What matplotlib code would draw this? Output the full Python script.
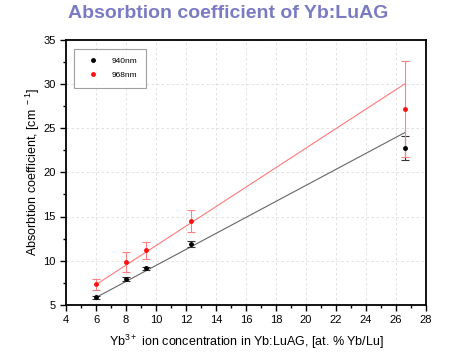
import numpy as np
import matplotlib.pyplot as plt

plt.rcParams["font.family"] = ["Liberation Sans", "DejaVu Sans"]
plt.rcParams["mathtext.fontset"] = "custom"
plt.rcParams["mathtext.rm"] = "Liberation Sans"

# data
conc = [6.0, 8.0, 9.33, 12.3, 26.6]
abs_940 = [5.87, 7.95, 9.15, 11.9, 22.7]
err_940 = [0.15, 0.2, 0.2, 0.35, 1.35]
abs_968 = [7.34, 9.86, 11.2, 14.5, 27.15]
err_968 = [0.6, 1.1, 0.95, 1.2, 5.4]
# linear fits (slope, intercept)
fit_940 = [0.905, 0.42]
fit_968 = [1.102, 0.69]

fig = plt.figure(figsize=(4.5, 3.58), dpi=100)
ax = fig.add_axes([66 / 450, 1 - 305 / 358, 360 / 450, 265.5 / 358])

xf = np.array([conc[0], conc[-1]])
ax.plot(xf, fit_940[0] * xf + fit_940[1], color="#666666", lw=0.8)
ax.plot(xf, fit_968[0] * xf + fit_968[1], color="#ff7a7a", lw=0.8)

# error bars
ax.errorbar(conc, abs_940, yerr=err_940, fmt="none", ecolor="#333333",
            elinewidth=0.8, capsize=3, capthick=0.8)
ax.errorbar(conc, abs_968, yerr=err_968, fmt="none", ecolor="#ff8080",
            elinewidth=0.8, capsize=3, capthick=0.8)
# points
ax.plot(conc, abs_940, "o", color="black", ms=2.5, ls="none", label="940nm")
ax.plot(conc, abs_968, "o", color="#ff1010", ms=2.5, ls="none", label="968nm")

ax.set_xlim(4, 28)
ax.set_ylim(5, 35)
ax.set_xticks(np.arange(4, 29, 2))
ax.set_xticks(np.arange(4, 29, 1), minor=True)
ax.set_yticks(np.arange(5, 36, 5))
ax.set_yticks(np.arange(5, 36, 2.5), minor=True)
ax.tick_params(which="major", direction="out", length=4.5, width=1, labelsize=8, pad=3,
               right=False, top=False)
ax.tick_params(which="minor", direction="out", length=2.5, width=1)
ax.grid(True, which="major", color="#dddddd", ls=(0, (3, 3)), lw=0.6)
for s in ax.spines.values():
    s.set_linewidth(1.3)

ax.set_xlabel(r"Yb$^{3+}$ ion concentration in Yb:LuAG, [at. % Yb/Lu]", fontsize=9, labelpad=5)
ax.set_ylabel(r"Absorbtion coefficient, [cm$^{\ -1}$]", fontsize=9, labelpad=1)

leg = ax.legend(loc="upper left", fontsize=6, frameon=True, fancybox=False,
                edgecolor="#888888", borderpad=1.0, labelspacing=0.75,
                handlelength=2.5, handletextpad=1.0, borderaxespad=0,
                bbox_to_anchor=(0.023, 0.964))
leg.get_frame().set_linewidth(0.8)

fig.text(228 / 450, 1 - 14 / 358, "Absorbtion coefficient of Yb:LuAG", ha="center", va="center",
         fontsize=14, color="#7b7bc4", fontweight="bold")

fig.savefig("out.png", dpi=100)
